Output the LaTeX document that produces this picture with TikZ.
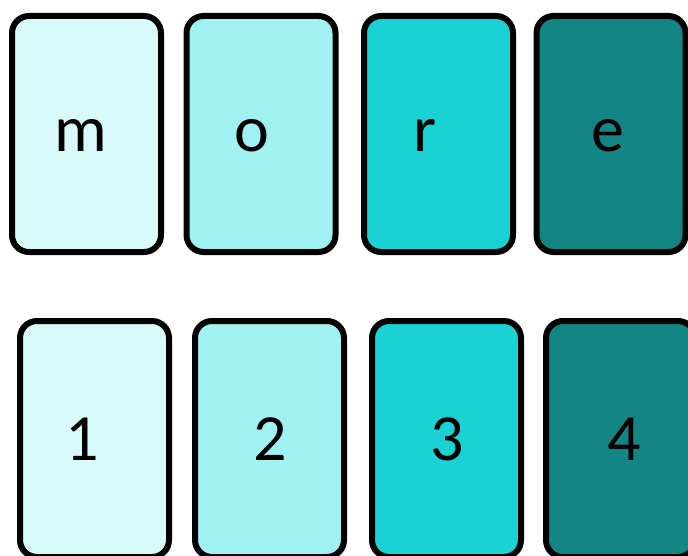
\documentclass[tikz,border=0pt]{standalone}
\usepackage{fontspec}
\setmainfont{Carlito}
\definecolor{cA}{HTML}{D9FAFA}
\definecolor{cB}{HTML}{A0F2F2}
\definecolor{cC}{HTML}{1AD1D3}
\definecolor{cD}{HTML}{138582}
\begin{document}
\begin{tikzpicture}[x=1pt,y=-1pt,
  card/.style={draw=black, line width=6pt, rounded corners=17pt, minimum width=149pt, minimum height=236pt, inner sep=0pt, outer sep=0pt},
  lbl/.style={anchor=base, inner sep=0pt, font=\fontsize{66pt}{70pt}\selectfont}]
\useasboundingbox (0,0) rectangle (688,556);
\clip (0,0) rectangle (688,556);
\fill[white] (0,0) rectangle (688,556);
% top row
\node[card, fill=cA] (t1) at (86.5,134) {};
\node[card, fill=cB] (t2) at (261,134) {};
\node[card, fill=cC] (t3) at (438.5,134) {};
\node[card, fill=cD] (t4) at (611,134) {};
\node[lbl] (lm) at (81,152) {m};
\node[lbl] (lo) at (252,152) {o};
\node[lbl] (lr) at (425,152) {r};
\node[lbl] (le) at (608,152) {e};
% bottom row
\node[card, fill=cA] (b1) at (94.5,439) {};
\node[card, fill=cB] (b2) at (269.5,439) {};
\node[card, fill=cC] (b3) at (446.5,439) {};
\node[card, fill=cD] (b4) at (620.5,439) {};
\node[lbl] (n1) at (82,460) {1};
\node[lbl] (n2) at (270,460) {2};
\node[lbl] (n3) at (447,460) {3};
\node[lbl] (n4) at (624,460) {4};
\end{tikzpicture}
\end{document}
